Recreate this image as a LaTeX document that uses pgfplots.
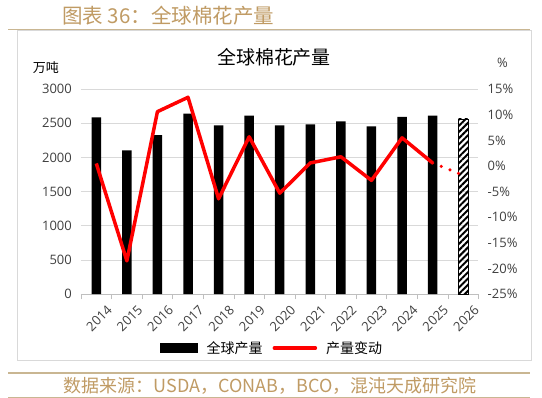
\documentclass[border=0pt]{standalone}
\usepackage{pgfplots}
\pgfplotsset{compat=1.18}
\usepackage{fontspec}
\setmainfont{Open Sans}
\newfontfamily\cjk{Noto Sans CJK SC}
\usetikzlibrary{patterns.meta}
\definecolor{tantext}{RGB}{192,155,100}
\definecolor{tanline}{RGB}{201,182,146}
\definecolor{boxc}{RGB}{217,217,217}
\definecolor{gridc}{RGB}{217,217,217}
\definecolor{axisc}{RGB}{191,191,191}
\definecolor{labelc}{RGB}{64,64,64}
\begin{document}
\begin{tikzpicture}
\begin{scope}[x=1pt,y=1pt]
\useasboundingbox (0,0) rectangle (542,-398);
\fill[white] (0,0) rectangle (542,-398);
\draw[tanline, line width=1.3pt] (8,-29.5) -- (530,-29.5);
\draw[boxc, line width=1pt] (17.5,-30.5) rectangle (531,-360.5);
\node[anchor=west, text=tantext, inner sep=0pt, font=\cjk\fontsize{20.5}{24}\selectfont] at (62,-16) {图表 36：全球棉花产量};
\draw[tanline, line width=1.3pt] (8,-373) -- (530,-373);
\draw[tanline, line width=1.3pt] (8,-397.3) -- (530,-397.3);
\node[text=tantext, inner sep=0pt, font=\cjk\fontsize{18}{21}\selectfont] at (270,-385.5) {数据来源：USDA，CONAB，BCO，混沌天成研究院};
\node[inner sep=0pt, font=\cjk\fontsize{19}{22}\selectfont] at (274,-57) {全球棉花产量};
\node[inner sep=0pt, font=\cjk\fontsize{13}{15}\selectfont] at (46,-67.5) {万吨};
\node[inner sep=0pt, text=labelc, font=\fontsize{13}{15}\selectfont] at (502.5,-63) {\%};
\end{scope}

\begin{axis}[
  at={(81pt,-294.2pt)}, anchor=south west, scale only axis,
  width=397.5pt, height=205.1pt,
  xmin=-0.5, xmax=12.5, ymin=0, ymax=3000,
  axis x line*=bottom, axis y line*=left,
  y axis line style={draw=none},
  x axis line style={draw=axisc, line width=0.75pt, -},
  ytick={0,500,...,3000}, ymajorgrids,
  grid style={gridc, line width=0.75pt},
  major tick length=0pt,
  xtick={0,...,12},
  xticklabels={2014,2015,2016,2017,2018,2019,2020,2021,2022,2023,2024,2025,2026},
  minor xtick={-0.5,0.5,...,12.5}, minor tick length=5pt, tick align=outside,
  minor tick style={axisc, line width=0.75pt},
  ybar, bar width=9.5pt, bar shift=0pt,
  tick label style={font=\fontsize{13}{15}\selectfont, text=labelc},
  /pgf/number format/assume math mode=true,
  /pgf/number format/1000 sep={},
  yticklabel style={inner sep=0pt, xshift=-9pt},
  xticklabel style={rotate=45, anchor=east, inner sep=0pt, yshift=-19pt, xshift=0pt},
  clip=false,
]
\addplot[fill=black, draw=none] coordinates {(0,2587) (1,2105) (2,2328) (3,2640) (4,2470) (5,2611) (6,2470) (7,2485) (8,2529) (9,2456) (10,2592) (11,2611)};
\addplot[draw=black, line width=0.9pt, pattern={Lines[angle=45, distance=4.4pt, line width=2pt]}, pattern color=black] coordinates {(12,2563)};
\end{axis}

\begin{axis}[
  at={(81pt,-294.2pt)}, anchor=south west, scale only axis,
  width=397.5pt, height=205.1pt,
  xmin=-0.5, xmax=12.5, ymin=-25, ymax=15,
  axis x line=none, axis y line*=right,
  y axis line style={draw=none},
  major tick length=0pt,
  ytick={-25,-20,...,15},
  yticklabels={-25\%,-20\%,-15\%,-10\%,-5\%,0\%,5\%,10\%,15\%},
  tick label style={font=\fontsize{13}{15}\selectfont, text=labelc},
  yticklabel style={inner sep=0pt, xshift=9pt},
  clip=false,
  legend style={at={(0.481,-0.263)}, anchor=center, draw=none, fill=none,
    legend columns=2, font=\cjk\fontsize{14}{16}\selectfont,
    /tikz/every odd column/.append style={column sep=7pt},
    /tikz/every even column/.append style={column sep=8pt}},
]
\addlegendimage{legend image code/.code={\fill[black] (0pt,-4.5pt) rectangle (37pt,4.5pt);}}
\addlegendentry{全球产量}
\addplot[red, line width=3.5pt, line join=round,
  legend image code/.code={\draw[red, line width=3.5pt, line cap=round] (0pt,0pt) -- (41pt,0pt);}]
  coordinates {(0,0.5) (1,-18.5) (2,10.6) (3,13.4) (4,-6.4) (5,5.7) (6,-5.3) (7,0.6) (8,1.8) (9,-2.8) (10,5.5) (11,0.6)};
\addlegendentry{产量变动}
\addplot[red, line width=3.5pt, line cap=round, dash pattern=on 0pt off 9.3pt, forget plot]
  coordinates {(11,0.6) (12,-1.8)};
\end{axis}
\end{tikzpicture}
\end{document}
